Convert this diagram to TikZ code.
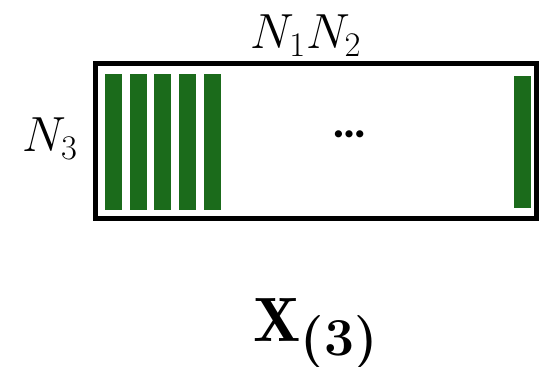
\RequirePackage{fix-cm}
\documentclass[tikz,border=0pt]{standalone}
\usepackage{fontspec}
\newfontfamily\dotsfont{Carlito}
\definecolor{bargreen}{RGB}{27,107,27}
\begin{document}
\begin{tikzpicture}[x=0.75pt,y=-0.75pt,
  bar/.style={fill=bargreen},
  frame/.style={draw=black,line width=3.75pt,line join=miter},
  lbl/.style={inner sep=0pt,anchor=base}]
\useasboundingbox (0,0) rectangle (543,367);
\draw[frame] (95,64) rectangle (536.5,219);
\foreach \x in {105,130,154,179,204}{
  \fill[bar] (\x,74) rectangle ++(17,136);
}
\fill[bar] (514,76) rectangle (531,208);
\node[lbl] (n12) at (306,49) {\fontsize{37}{40}\selectfont $N_1N_2$};
\node[lbl] (n3) at (50,152) {\fontsize{37}{40}\selectfont $N_3$};
\node[lbl] (dots) at (350,138) {\dotsfont\bfseries\fontsize{36}{38}\selectfont …};
\node[lbl,anchor=base west] (x3) at (253,341) {\fontsize{47}{50}\selectfont $\mathbf{X}$\raisebox{-11pt}{\fontsize{40}{42}\selectfont\textbf{(3)}}};
\end{tikzpicture}
\end{document}
